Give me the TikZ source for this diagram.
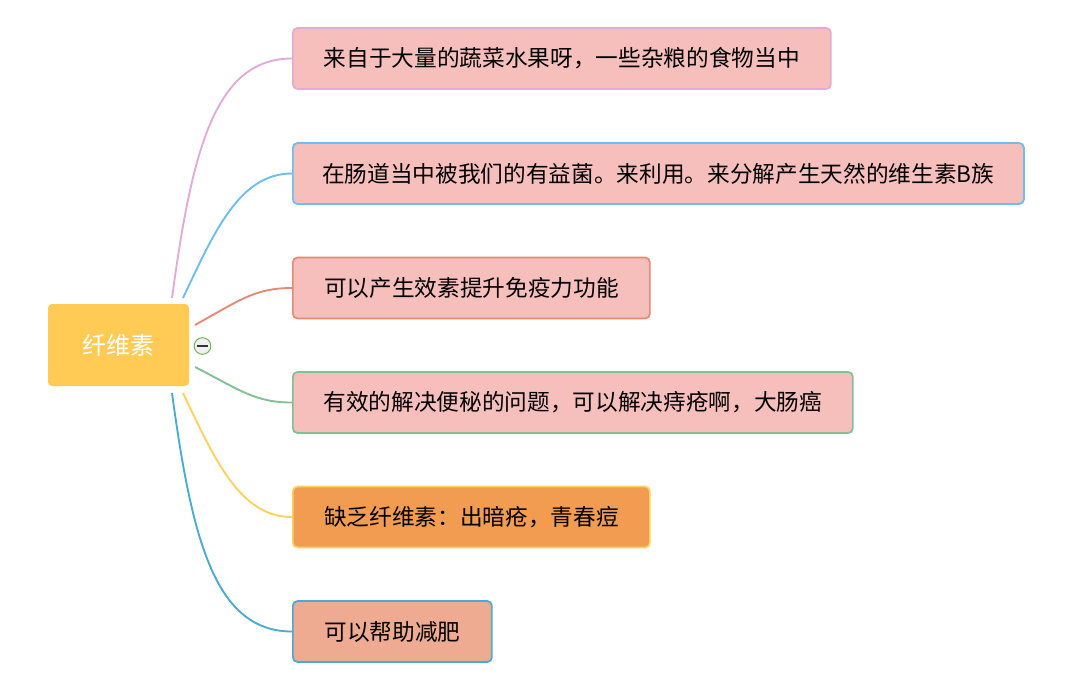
\documentclass[tikz,border=0pt]{standalone}
\usepackage{fontspec}
\setmainfont{Noto Sans CJK SC}
\usetikzlibrary{positioning}
\definecolor{topicfill}{HTML}{FFCB55}
\definecolor{leafpink}{HTML}{F6BFBC}
\definecolor{leaforange}{HTML}{F29C52}
\definecolor{leafsalmon}{HTML}{EFAB92}
\definecolor{linkpurple}{HTML}{E2A9D9}
\definecolor{linksky}{HTML}{6EBDEF}
\definecolor{linkred}{HTML}{E58B74}
\definecolor{linkgreen}{HTML}{80C094}
\definecolor{linkyellow}{HTML}{FFD15E}
\definecolor{linkblue}{HTML}{4AABD2}
\definecolor{foldline}{HTML}{6AB04C}

\begin{document}
\begin{tikzpicture}[
  x=0.75pt, y=-0.75pt,
  topic/.style={fill=topicfill, rounded corners=3pt, minimum width=105.75pt, minimum height=61.5pt, text=white, font=\fontsize{18}{20}\selectfont},
  leaf/.style={rounded corners=3.5pt, line width=1.3pt, anchor=west, minimum height=45.75pt, inner xsep=0pt, font=\fontsize{17}{19}\selectfont},
  link/.style={line width=1.4pt}
]
\useasboundingbox[fill=white] (0,0) rectangle (1066,690);
\node[topic] (fiber) at (118.5,345) {纤维素};
\node[circle, draw=foldline, fill=green!4!gray!12, line width=0.7pt, minimum size=12.5pt, inner sep=0pt] (fold) at (202.5,346) {};
\draw[black!80, line width=0.8pt] ([xshift=-3.8pt]fold.center) -- ([xshift=3.8pt]fold.center);

\node[leaf, draw=linkpurple, fill=leafpink, minimum width=403.5pt] (b1) at (292,58.5) {来自于大量的蔬菜水果呀，一些杂粮的食物当中};
\node[leaf, draw=linksky, fill=leafpink, minimum width=548.25pt] (b2) at (292,173.5) {在肠道当中被我们的有益菌。来利用。来分解产生天然的维生素B族};
\node[leaf, draw=linkred, fill=leafpink, minimum width=267.75pt] (b3) at (292,288) {可以产生效素提升免疫力功能};
\node[leaf, draw=linkgreen, fill=leafpink, minimum width=420pt] (b4) at (292,402.5) {有效的解决便秘的问题，可以解决痔疮啊，大肠癌};
\node[leaf, draw=linkyellow, fill=leaforange, minimum width=267.75pt] (b5) at (292,517) {缺乏纤维素：出暗疮，青春痘};
\node[leaf, draw=linkblue, fill=leafsalmon, minimum width=149.25pt] (b6) at (292,631.5) {可以帮助减肥};

% branch roots around the central topic
\coordinate (s1) at (172,298);
\coordinate (s2) at (183,298);
\coordinate (s3) at (195,325);
\coordinate (s4) at (195,367);
\coordinate (s5) at (183,393);
\coordinate (s6) at (172,393);

\draw[link, linkpurple] (s1) .. controls (192,150) and (215,58.5) .. (b1.west);
\draw[link, linksky] (s2) .. controls (215,230) and (240,173.5) .. (b2.west);
\draw[link, linkred] (s3) .. controls (240,300) and (255,288) .. (b3.west);
\draw[link, linkgreen] (s4) .. controls (240,390) and (255,402.5) .. (b4.west);
\draw[link, linkyellow] (s5) .. controls (215,460) and (240,517) .. (b5.west);
\draw[link, linkblue] (s6) .. controls (192,540) and (215,631.5) .. (b6.west);
\end{tikzpicture}
\end{document}
